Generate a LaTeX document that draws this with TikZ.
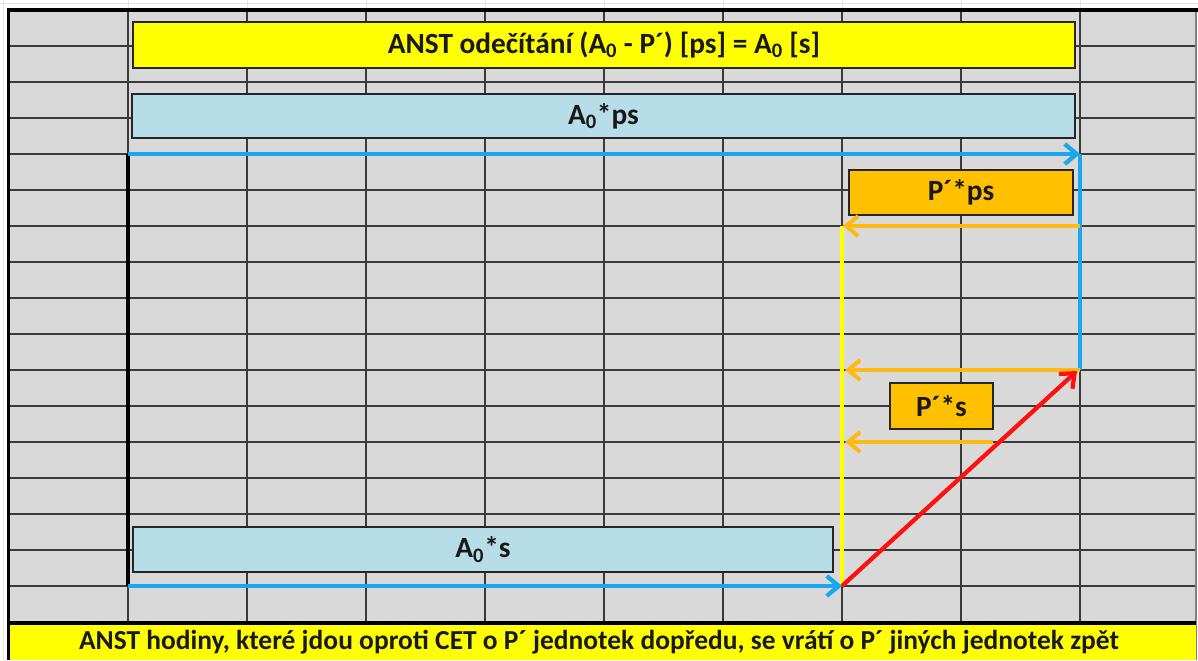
\documentclass[tikz,border=0pt]{standalone}
\usepackage{fontspec}
\setmainfont{Carlito}
\usetikzlibrary{arrows.meta}
\definecolor{cellgray}{HTML}{D9D9D9}
\definecolor{gridline}{HTML}{3A3A3A}
\definecolor{faint}{HTML}{E4E4E4}
\definecolor{titleyellow}{HTML}{FFFF00}
\definecolor{boxblue}{HTML}{B7DDE8}
\definecolor{boxorange}{HTML}{FFC000}
\definecolor{arrblue}{HTML}{1AA7EC}
\definecolor{arrorange}{HTML}{FFB915}
\definecolor{arrred}{HTML}{FF1010}
\tikzset{
  label box/.style={draw=black!85, line width=1.4pt, inner sep=0pt,
    font=\bfseries\fontsize{22}{25}\selectfont, text=black!90},
  barb/.style={-{Straight Barb[length=9pt,width=15pt]}},
  blue flow/.style={draw=arrblue, line width=3.2pt},
  orange flow/.style={draw=arrorange, line width=3pt, barb},
}
\newcommand{\zsub}{\textsubscript{0}}
\begin{document}
\begin{tikzpicture}[x=0.75pt, y=-0.75pt]
\useasboundingbox (0,0) rectangle (1198,660);
\fill[white] (0,0) rectangle (1198,660);
% faint sheet grid outside the bordered block
\draw[faint, line width=0.6pt] (3,0) -- (3,660) (0,3) -- (1198,3);
\foreach \x in {128,247,366,485,604,723,842,961,1080}
  \draw[faint, line width=0.6pt] (\x,0) -- (\x,9);
% cells
\fill[cellgray] (8,10) rectangle (1196,623);
\foreach \k in {1,...,16}
  \draw[gridline, line width=0.8pt] (8,10+36*\k) -- (1196,10+36*\k);
\foreach \x in {128,247,366,485,604,723,842,961,1080}
  \draw[gridline, line width=0.8pt] (\x,10) -- (\x,623);
\draw[gray, line width=1pt] (1196,10) -- (1196,660);
% bottom band
\fill[titleyellow] (8,623) rectangle (1196,660);
\node[font=\bfseries\fontsize{20.6}{23}\selectfont, text=black!90] (foot) at (599,642)
  {ANST hodiny, které jdou oproti CET o P´ jednotek dopředu, se vrátí o P´ jiných jednotek zpět};
% heavy frame
\draw[black, line width=2.4pt] (8.5,660) -- (8.5,10) -- (1198,10);
\draw[black, line width=2.4pt] (8.5,623) -- (1196,623);

% labelled bars
\node[label box, fill=titleyellow, minimum width=706.5pt, minimum height=34.5pt] (title) at (604,45)
  {ANST odečítání (A\zsub{} - P´) [ps] = A\zsub{} [s]};
\node[label box, fill=boxblue, minimum width=707pt, minimum height=33pt] (aps) at (603.5,116)
  {A\zsub*ps};
\node[label box, fill=boxorange, minimum width=168pt, minimum height=33.75pt] (pps) at (961,192.5)
  {P´*ps};
\node[label box, fill=boxorange, minimum width=77pt, minimum height=34.5pt] (pss) at (941.5,406)
  {P´*s};
\node[label box, fill=boxblue, minimum width=525pt, minimum height=33.75pt] (as) at (483,549.5)
  {A\zsub*s};

% route points
\coordinate (tl) at (128,154);
\coordinate (tr) at (1080,154);
\coordinate (r1) at (1080,226);
\coordinate (r2) at (1080,370);
\coordinate (y1) at (843,226);
\coordinate (y2) at (845,370);
\coordinate (y3) at (845,442);
\coordinate (o3) at (993,442);
\coordinate (bl) at (128,586);
\coordinate (br) at (842,586);
\coordinate (rt) at (1077,371);

% axis and yellow line
\draw[black, line width=3pt] (tl) -- (bl);
\draw[titleyellow, line width=2.6pt] (842,226) -- (br);
% flows
\draw[blue flow, barb] (tl) -- (tr);
\draw[blue flow] (tr) -- (r2);
\draw[orange flow] (r1) -- (y1);
\draw[orange flow] (r2) -- (y2);
\draw[orange flow] (o3) -- (y3);
\draw[blue flow, barb] (bl) -- (br);
\draw[draw=arrred, line width=3.2pt, barb] (br) -- (rt);
\end{tikzpicture}
\end{document}
